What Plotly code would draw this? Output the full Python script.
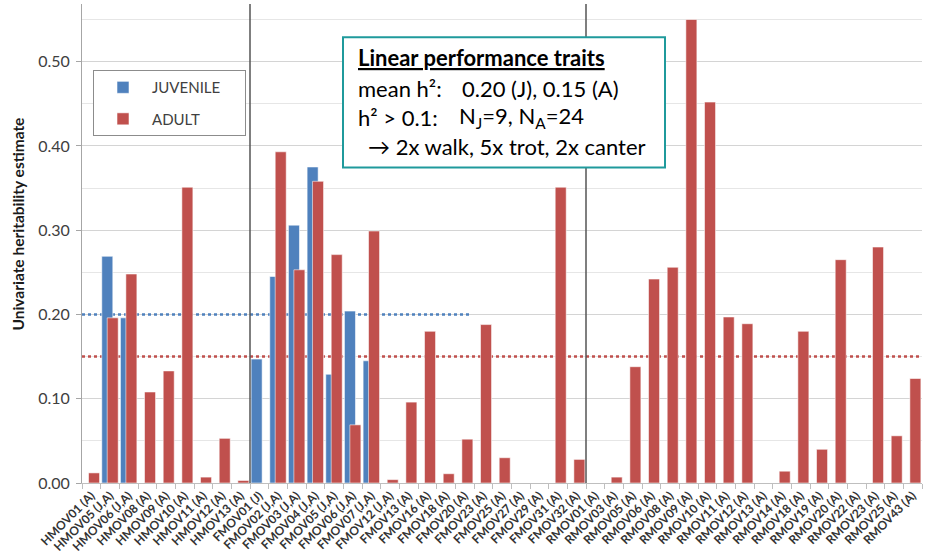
import plotly.graph_objects as go

categories = [
    "HMOV01 (A)", "HMOV05 (J,A)", "HMOV06 (J,A)", "HMOV08 (A)", "HMOV09 (A)",
    "HMOV10 (A)", "HMOV11 (A)", "HMOV12 (A)", "HMOV13 (A)", "FMOV01 (J)",
    "FMOV02 (J,A)", "FMOV03 (J,A)", "FMOV04 (J,A)", "FMOV05 (J,A)", "FMOV06 (J,A)",
    "FMOV07 (J,A)", "FMOV12 (J,A)", "FMOV13 (A)", "FMOV16 (A)", "FMOV18 (A)",
    "FMOV20 (A)", "FMOV23 (A)", "FMOV25 (A)", "FMOV27 (A)", "FMOV29 (A)",
    "FMOV31 (A)", "FMOV32 (A)", "RMOV01 (A)", "RMOV03 (A)", "RMOV05 (A)",
    "RMOV06 (A)", "RMOV08 (A)", "RMOV09 (A)", "RMOV10 (A)", "RMOV11 (A)",
    "RMOV12 (A)", "RMOV13 (A)", "RMOV14 (A)", "RMOV18 (A)", "RMOV19 (A)",
    "RMOV20 (A)", "RMOV22 (A)", "RMOV23 (A)", "RMOV25 (A)", "RMOV43 (A)",
]

juvenile = [
    None, 0.269, 0.196, None, None, None, None, None, None, 0.147,
    0.245, 0.306, 0.375, 0.129, 0.204, 0.145, None, None, None, None,
    None, None, None, None, None, None, None, None, None, None,
    None, None, None, None, None, None, None, None, None, None,
    None, None, None, None, None,
]

adult = [
    0.012, 0.196, 0.248, 0.108, 0.133, 0.351, 0.007, 0.053, 0.003, None,
    0.393, 0.253, 0.358, 0.271, 0.069, 0.299, 0.004, 0.096, 0.180, 0.011,
    0.052, 0.188, 0.030, None, None, 0.351, 0.028, None, 0.007, 0.138,
    0.242, 0.256, 0.550, 0.452, 0.197, 0.189, None, 0.014, 0.180, 0.040,
    0.265, None, 0.280, 0.056, 0.124,
]

mean_juvenile = 0.20
mean_adult = 0.15
group_dividers = [8.5, 26.5]
juvenile_mean_end = 20.35

y_ticks = [0.0, 0.1, 0.2, 0.3, 0.4, 0.5]
y_tick_text = ["0.00", "0.10", "0.20", "0.30", "0.40", "0.50"]

BLUE = "#4F81BD"
RED = "#C0504D"
TEAL = "#1F9A9C"
FONT = "Lato"
PAD = "\u00a0" * 5

# plot-area pixel geometry (for paper-coordinate placement of overlays)
L, R, T, B = 82, 922, 4, 486
def px(x):
    return (x - L) / (R - L)
def py(y):
    return (B - y) / (B - T)

fig = go.Figure()
fig.add_trace(go.Bar(
    x=categories, y=juvenile, name="JUVENILE" + PAD,
    marker=dict(color=BLUE, line=dict(color="rgba(255,255,255,0.55)", width=1)),
    offset=-0.44, width=0.59, legendgroup="j",
))
fig.add_trace(go.Bar(
    x=categories, y=adult, name="ADULT",
    marker=dict(color=RED, line=dict(color="rgba(255,255,255,0.55)", width=1)),
    offset=-0.15, width=0.59, legendgroup="a",
))

shapes = [
    dict(type="line", xref="x", yref="y", x0=-0.5, x1=juvenile_mean_end,
         y0=mean_juvenile, y1=mean_juvenile, layer="between",
         line=dict(color=BLUE, width=2.5, dash="dot")),
    dict(type="line", xref="x", yref="y", x0=-0.5, x1=44.5,
         y0=mean_adult, y1=mean_adult, layer="between",
         line=dict(color=RED, width=2.5, dash="dot")),
]
for d in group_dividers:
    shapes.append(dict(type="line", xref="x", yref="paper", x0=d, x1=d, y0=0, y1=1,
                       layer="above", line=dict(color="#555555", width=1.5)))
shapes.append(dict(type="rect", xref="paper", yref="paper",
                   x0=px(343), x1=px(665), y0=py(168.5), y1=py(37.5),
                   layer="above", fillcolor="white", line=dict(color=TEAL, width=2)))

box_font = dict(family=FONT, size=22, color="black")
annotations = [
    dict(text="Univariate heritability estimate", xref="paper", yref="paper",
         x=px(18), y=py(226), textangle=-90, showarrow=False,
         xanchor="center", yanchor="middle",
         font=dict(family=FONT, size=15.5, color="#1a1a1a", weight="bold")),
    dict(text="<b><u>Linear performance traits</u></b>", xref="paper", yref="paper",
         x=px(356), y=py(58), xanchor="left", yanchor="middle", showarrow=False, font=box_font),
    dict(text="mean h²:", xref="paper", yref="paper",
         x=px(356), y=py(89), xanchor="left", yanchor="middle", showarrow=False, font=box_font),
    dict(text="0.20 (J), 0.15 (A)", xref="paper", yref="paper",
         x=px(460), y=py(89), xanchor="left", yanchor="middle", showarrow=False, font=box_font),
    dict(text="h² > 0.1:", xref="paper", yref="paper",
         x=px(356), y=py(118), xanchor="left", yanchor="middle", showarrow=False, font=box_font),
    dict(text="N<sub>J</sub>=9, N<sub>A</sub>=24", xref="paper", yref="paper",
         x=px(457), y=py(118), xanchor="left", yanchor="middle", showarrow=False, font=box_font),
    dict(text="→ 2x walk, 5x trot, 2x canter", xref="paper", yref="paper",
         x=px(366), y=py(147), xanchor="left", yanchor="middle", showarrow=False, font=box_font),
]

fig.update_layout(
    width=934, height=558,
    margin=dict(l=L, r=934 - R, t=T, b=558 - B),
    paper_bgcolor="white", plot_bgcolor="white",
    barmode="overlay",
    hovermode=False,
    font=dict(family=FONT, color="#404040"),
    shapes=shapes, annotations=annotations,
    showlegend=True,
    legend=dict(
        x=px(93), y=py(70.5), xanchor="left", yanchor="top",
        bordercolor="#8c8c8c", borderwidth=1, bgcolor="white",
        font=dict(family=FONT, size=15, color="#404040"),
        tracegroupgap=9, itemwidth=48,
    ),
    xaxis=dict(
        type="category", range=[-0.5, 44.5],
        tickangle=-45, tickson="boundaries", ticks="outside", ticklen=5,
        tickcolor="#bfbfbf", showline=True, linecolor="#bfbfbf", linewidth=1,
        showgrid=False, tickfont=dict(family=FONT, size=12, color="#333333", weight="bold"),
    ),
    yaxis=dict(
        range=[0, 0.5684], tickvals=y_ticks, ticktext=y_tick_text,
        showgrid=True, gridcolor="#d4d4d4", gridwidth=1,
        minor=dict(dtick=0.05, showgrid=True, gridcolor="#e6e6e6", gridwidth=1),
        showline=True, linecolor="#a6a6a6", linewidth=1,
        ticks="outside", ticklen=5, tickcolor="#a6a6a6", ticklabelstandoff=3,
        zeroline=False, tickfont=dict(family=FONT, size=16, color="#404040"),
    ),
)

fig.write_html(
    "out.html",
    config={"displayModeBar": False, "staticPlot": True},
    post_script="document.body.style.margin='0';document.body.style.padding='0';",
)
